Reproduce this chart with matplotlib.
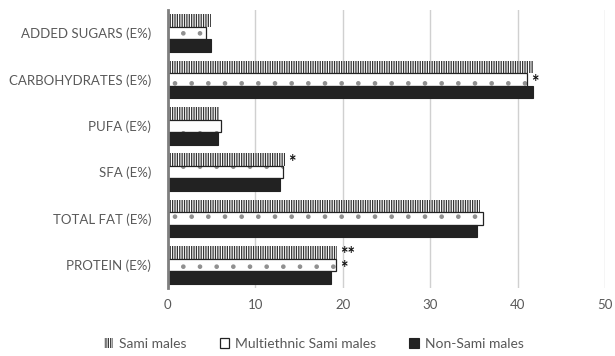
import numpy as np
import matplotlib.pyplot as plt

plt.rcParams['font.family'] = ['Lato', 'DejaVu Sans']
plt.rcParams['hatch.linewidth'] = 0.9

# data (bottom to top)
categories = ["PROTEIN (E%)", "TOTAL FAT (E%)", "SFA (E%)", "PUFA (E%)",
              "CARBOHYDRATES (E%)", "ADDED SUGARS (E%)"]
sami = [19.3, 35.7, 13.4, 5.8, 41.7, 4.9]
multi = [19.2, 36.0, 13.2, 6.1, 41.1, 4.4]
non_sami = [18.6, 35.3, 12.8, 5.7, 41.8, 4.9]
series_names = ["Sami males", "Multiethnic Sami males", "Non-Sami males"]
# significance marks per category: {category index: [(series index, text), ...]}
stars = {0: [(0, "**"), (1, "*")], 2: [(0, "*")], 4: [(1, "*")]}

fig = plt.figure(figsize=(6.15, 3.56), dpi=100)
ax = fig.add_axes([0.273, 0.191, 0.711, 0.781])

y = np.arange(len(categories))
h = 0.27
offsets = [h, 0, -h]

b1 = ax.barh(y + offsets[0], sami, height=h, facecolor='white',
             edgecolor='#333333', hatch='|||||||', linewidth=0, label=series_names[0])
# multiethnic: faint dots inside, dark outline on top
ax.barh(y + offsets[1], multi, height=h, facecolor='white',
        edgecolor='#909090', hatch='.', linewidth=0)
b2 = ax.barh(y + offsets[1], multi, height=h, fill=False,
             edgecolor='#222222', linewidth=0.9, label=series_names[1])
b3 = ax.barh(y + offsets[2], non_sami, height=h, color='#222222',
             edgecolor='#222222', linewidth=0.8, label=series_names[2])

values = [sami, multi, non_sami]
for ci, marks in stars.items():
    # stacked marks for one category go into a single text block
    sis = [m[0] for m in marks]
    x0 = max(values[si][ci] for si in sis) + 0.4
    yc = np.mean([y[ci] + offsets[si] for si in sis]) - 0.06
    ax.text(x0, yc, "\n".join(m[1] for m in marks), fontsize=13,
            fontweight='bold', va='center', ha='left', color='#111111',
            linespacing=0.75)

ax.set_xlim(0, 50)
ax.set_ylim(-0.5, len(categories) - 0.5)
ax.set_xticks(range(0, 51, 10))
ax.set_yticks(y)
ax.set_yticklabels(categories)
ax.tick_params(axis='both', length=0, labelcolor='#595959', labelsize=9.5)
ax.tick_params(axis='y', pad=12)
ax.tick_params(axis='x', pad=8)
ax.xaxis.grid(True, color='#d0d0d0', linewidth=1)
ax.set_axisbelow(True)
for s in ['top', 'right', 'bottom']:
    ax.spines[s].set_visible(False)
ax.spines['left'].set_color('#7f7f7f')
ax.spines['left'].set_linewidth(2)

fig.legend(handles=[b1, b2, b3], loc='center', bbox_to_anchor=(0.51, 0.035),
           ncol=3, frameon=False, fontsize=10, labelcolor='#595959',
           handlelength=0.7, handleheight=0.7, handletextpad=0.4, columnspacing=2.4)

fig.savefig("out.png", dpi=100)
